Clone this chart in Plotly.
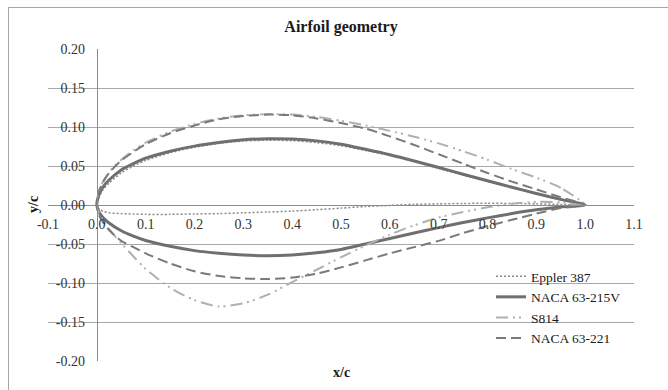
import plotly.graph_objects as go

# Chordwise stations (x/c), shared by all four sections, leading edge to trailing edge
x_stations = [0.0, 0.005, 0.0125, 0.025, 0.05, 0.075, 0.1, 0.15, 0.2, 0.25, 0.3, 0.35,
              0.4, 0.45, 0.5, 0.55, 0.6, 0.65, 0.7, 0.75, 0.8, 0.85, 0.9, 0.95, 1.0]

# Eppler 387
e387_upper = [0.0, 0.011, 0.019, 0.028, 0.041, 0.050, 0.057, 0.067, 0.074, 0.079, 0.082, 0.083,
              0.0825, 0.080, 0.076, 0.0700, 0.0635, 0.0555, 0.047, 0.0385, 0.030, 0.022, 0.014, 0.0068, 0.0]
e387_lower = [0.0, -0.005, -0.008, -0.010, -0.011, -0.0115, -0.012, -0.012, -0.0115, -0.011, -0.010, -0.009,
              -0.0078, -0.006, -0.004, -0.002, -0.0005, 0.0008, 0.0015, 0.002, 0.0022, 0.002, 0.0015, 0.0008, 0.0]

# NACA 63-215V
n215_upper = [0.0, 0.014, 0.023, 0.032, 0.045, 0.053, 0.060, 0.069, 0.0755, 0.080, 0.0835, 0.085,
              0.0845, 0.0822, 0.078, 0.0715, 0.0645, 0.0565, 0.048, 0.0395, 0.031, 0.0228, 0.0148, 0.0072, 0.0]
n215_lower = [0.0, -0.010, -0.016, -0.023, -0.033, -0.040, -0.0455, -0.053, -0.0585, -0.062, -0.0642, -0.065,
              -0.064, -0.0612, -0.057, -0.050, -0.043, -0.036, -0.029, -0.0225, -0.0165, -0.011, -0.0062, -0.0025, 0.0]

# S814
s814_upper = [0.0, 0.019, 0.030, 0.042, 0.058, 0.070, 0.080, 0.094, 0.104, 0.111, 0.115, 0.1165,
              0.116, 0.113, 0.108, 0.102, 0.095, 0.0875, 0.079, 0.069, 0.058, 0.046, 0.035, 0.022, 0.0]
s814_lower = [0.0, -0.012, -0.020, -0.031, -0.049, -0.066, -0.082, -0.106, -0.122, -0.130, -0.126, -0.115,
              -0.099, -0.083, -0.067, -0.052, -0.038, -0.026, -0.016, -0.009, -0.003, 0.0015, 0.004, 0.0035, 0.0]

# NACA 63-221
n221_upper = [0.0, 0.019, 0.029, 0.041, 0.057, 0.068, 0.078, 0.092, 0.102, 0.110, 0.114, 0.116,
              0.115, 0.111, 0.105, 0.098, 0.088, 0.077, 0.065, 0.053, 0.041, 0.030, 0.020, 0.010, 0.0]
n221_lower = [0.0, -0.014, -0.022, -0.032, -0.046, -0.054, -0.062, -0.075, -0.085, -0.091, -0.094, -0.095,
              -0.093, -0.088, -0.080, -0.071, -0.062, -0.054, -0.046, -0.036, -0.027, -0.019, -0.011, -0.004, 0.0]

names = ["Eppler 387", "NACA 63-215V", "S814", "NACA 63-221"]

x_tickvals = [-0.1, 0.0, 0.1, 0.2, 0.3, 0.4, 0.5, 0.6, 0.7, 0.8, 0.9, 1.0, 1.1]
x_ticktext = ["-0.1", "0.0", "0.1", "0.2", "0.3", "0.4", "0.5", "0.6", "0.7", "0.8", "0.9", "1.0", "1.1"]
y_tickvals = [-0.2, -0.15, -0.1, -0.05, 0.0, 0.05, 0.1, 0.15, 0.2]
y_ticktext = ["-0.20", "-0.15", "-0.10", "-0.05", "0.00", "0.05", "0.10", "0.15", "0.20"]


def outline(upper, lower):
    """Closed contour: upper surface TE->LE, then lower surface LE->TE."""
    xs = x_stations[::-1] + x_stations[1:]
    ys = upper[::-1] + lower[1:]
    return xs, ys


styles = [
    dict(color="#8a8a8a", width=1.5, dash="2px,2px"),
    dict(color="#6f6f6f", width=3, dash="solid"),
    dict(color="#b0b0b0", width=2, dash="12px,5px,2px,4px,2px,5px"),
    dict(color="#7a7a7a", width=2, dash="10px,5px"),
]
sections = [(e387_upper, e387_lower), (n215_upper, n215_lower),
            (s814_upper, s814_lower), (n221_upper, n221_lower)]

fig = go.Figure()
for name, (up, lo), st in zip(names, sections, styles):
    xs, ys = outline(up, lo)
    fig.add_trace(go.Scatter(
        x=xs, y=ys, name=name, mode="lines",
        line=dict(color=st["color"], width=st["width"], dash=st["dash"],
                  shape="spline", smoothing=0.7),
    ))

W, H = 668, 390
ML, MR, MT, MB = 48, 34, 49, 29
PW, PH = W - ML - MR, H - MT - MB


def px_x(p):
    return (p - ML) / PW


def px_y(p):
    return (H - MB - p) / PH


serif = "Times New Roman"
grid = "#a8a8a8"
ink = "#1a1a1a"
tick_font = dict(family=serif, size=14, color="#333333")
label_font = dict(family=serif, size=14, color=ink)
clear = "rgba(0,0,0,0)"

fig.update_layout(
    width=W, height=H,
    margin=dict(l=ML, r=MR, t=MT, b=MB),
    paper_bgcolor="white", plot_bgcolor="white",
    title=dict(text="<b>Airfoil geometry</b>", x=0.5, xref="paper", xanchor="center",
               y=1 - 26 / H, yref="container", yanchor="middle",
               font=dict(family=serif, size=16, color=ink)),
    showlegend=True,
    legend=dict(x=px_x(491), y=px_y(261), xanchor="left", yanchor="top",
                bgcolor=clear, font=dict(family=serif, size=13.5, color=ink)),
    xaxis=dict(range=[-0.1, 1.1], tickvals=x_tickvals, ticktext=x_ticktext,
               anchor="free", position=0.5, showgrid=False, zeroline=False,
               showline=True, linecolor="#8c8c8c", linewidth=1,
               ticks="outside", ticklen=6, tickcolor=clear, tickfont=tick_font),
    yaxis=dict(range=[-0.2, 0.2], tickvals=y_tickvals, ticktext=y_ticktext,
               anchor="free", position=px_x(96.8), showgrid=True, gridcolor=grid, gridwidth=1,
               zeroline=False, showline=True, linecolor="#8c8c8c", linewidth=1,
               ticks="outside", ticklen=9, tickcolor=clear, tickfont=tick_font),
    annotations=[
        dict(text="<b>y/c</b>", x=px_x(33), y=px_y(205), xref="paper", yref="paper",
             textangle=-90, showarrow=False, xanchor="center", yanchor="middle",
             font=label_font),
        dict(text="<b>x/c</b>", x=px_x(341), y=px_y(372), xref="paper", yref="paper",
             showarrow=False, xanchor="center", yanchor="middle",
             font=label_font),
    ],
    shapes=[
        dict(type="line", xref="paper", yref="paper", x0=px_x(8), x1=px_x(W + 2),
             y0=px_y(7.5), y1=px_y(7.5), line=dict(color="#a6a6a6", width=1)),
        dict(type="line", xref="paper", yref="paper", x0=px_x(8.5), x1=px_x(8.5),
             y0=px_y(7), y1=px_y(H + 2), line=dict(color="#a6a6a6", width=1)),
    ],
)

fig.write_html("out.html")
